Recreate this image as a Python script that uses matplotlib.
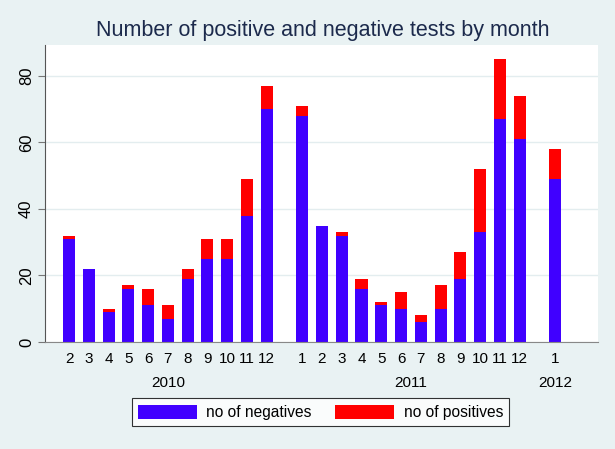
import numpy as np
import matplotlib.pyplot as plt
from matplotlib.patches import Patch

plt.rcParams['font.family'] = ['Liberation Sans', 'DejaVu Sans']

# months shown in each year group
months_2010 = ["2", "3", "4", "5", "6", "7", "8", "9", "10", "11", "12"]
months_2011 = ["1", "2", "3", "4", "5", "6", "7", "8", "9", "10", "11", "12"]
months_2012 = ["1"]
years = ["2010", "2011", "2012"]

neg_2010 = [31, 22, 9, 16, 11, 7, 19, 25, 25, 38, 70]
pos_2010 = [1, 0, 1, 1, 5, 4, 3, 6, 6, 11, 7]
neg_2011 = [68, 35, 32, 16, 11, 10, 6, 10, 19, 33, 67, 61]
pos_2011 = [3, 0, 1, 3, 1, 5, 2, 7, 8, 19, 18, 13]
neg_2012 = [49]
pos_2012 = [9]

bg = "#E9F2F3"
blue = "#4000FF"
red = "#FF0000"

groups = [months_2010, months_2011, months_2012]
gap = 0.8  # extra space between year groups (in bar slots)
x = []
centers = []
start = 0.0
for g in groups:
    p = start + np.arange(len(g))
    x.extend(p)
    centers.append(p.mean())
    start = p[-1] + 1 + gap
x = np.array(x)
labels = months_2010 + months_2011 + months_2012
neg = np.array(neg_2010 + neg_2011 + neg_2012)
pos = np.array(pos_2010 + pos_2011 + pos_2012)

fig = plt.figure(figsize=(6.15, 4.49), dpi=100, facecolor=bg)
ax = fig.add_axes([0.0732, 0.2383, 0.8992, 0.6615])
ax.set_facecolor("white")

ax.bar(x, neg, width=0.61, color=blue, zorder=2)
ax.bar(x, pos, width=0.61, bottom=neg, color=red, zorder=2)

ax.set_xlim(-1.215, 26.77)
ax.set_ylim(0, 89.3)
ax.set_yticks([0, 20, 40, 60, 80])
ax.yaxis.grid(True, color="#E3EDEF", linewidth=1, zorder=0)
ax.tick_params(axis="y", labelrotation=90, length=5, color="#777777",
               labelsize=12, pad=3)
for t in ax.get_yticklabels():
    t.set_va("center")
ax.set_xticks(x)
ax.set_xticklabels(labels)
ax.tick_params(axis="x", length=0, labelsize=11, pad=7)

for sp in ["top", "right"]:
    ax.spines[sp].set_visible(False)
ax.spines["left"].set_color("#555555")
ax.spines["bottom"].set_color("#888888")

for c, yr in zip(centers, years):
    ax.text(c, -0.138, yr, transform=ax.get_xaxis_transform(),
            ha="center", va="center", fontsize=11)

fig.text(0.524, 0.933, "Number of positive and negative tests by month",
         ha="center", va="center", fontsize=15.5, color="#1C2A4C")

handles = [Patch(facecolor=blue, label="no of negatives"),
           Patch(facecolor=red, label="no of positives")]
leg = fig.legend(handles=handles, loc="center", ncol=2,
                 bbox_to_anchor=(0.521, 0.0815), fontsize=11.2,
                 frameon=True, fancybox=False, edgecolor="black",
                 handlelength=3.8, handleheight=1.05, handletextpad=0.6,
                 columnspacing=1.5, borderpad=0.4, borderaxespad=0)
leg.get_frame().set_linewidth(0.8)

fig.savefig("out.png", dpi=100, facecolor=bg)
